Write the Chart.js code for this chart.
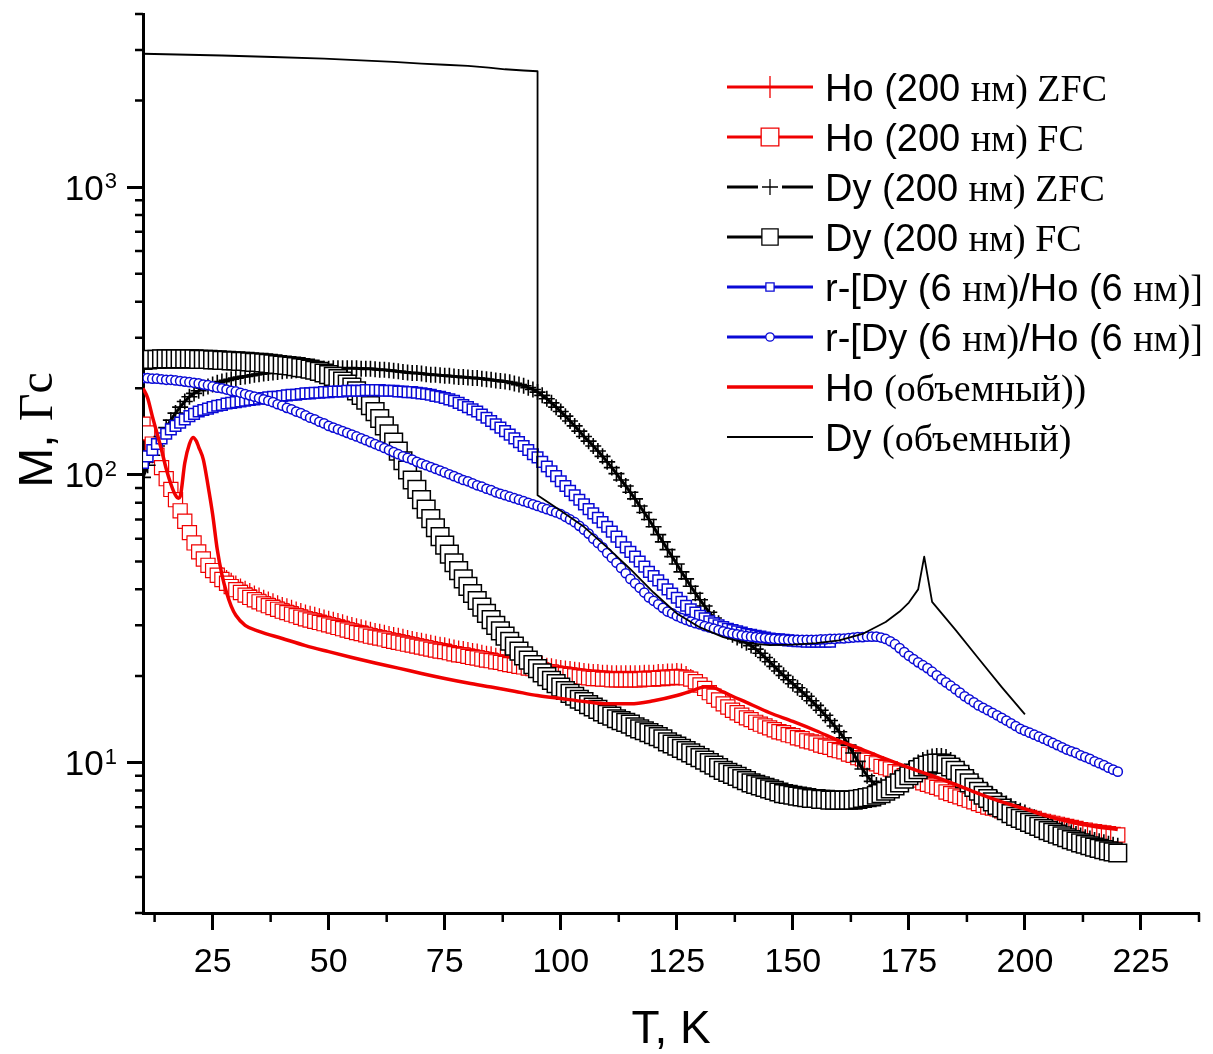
<!DOCTYPE html>
<html lang="ru">
<head>
<meta charset="utf-8">
<title>M(T)</title>
<script src="https://cdn.jsdelivr.net/npm/chart.js@4.4.1/dist/chart.umd.min.js"></script>
<style>
  html, body { margin: 0; padding: 0; background: #fff; }
  #mtChart { display: block; }
</style>
</head>
<body>
<canvas id="mtChart" width="1213" height="1054"></canvas>
<script>
// Magnetization vs temperature: Ho and Dy films (200 nm), r-[Dy/Ho] multilayer, bulk Ho and Dy

const SANS = '"Liberation Sans", Arial, sans-serif';
const SERIF = '"Liberation Serif", "Times New Roman", serif';

const RED = '#f00000';
const BLUE = '#0a0ad6';
const BLACK = '#000000';

// Temperature grid, K (film series are sampled every 1 K)
const tempGrid = [
  10, 11, 12, 13, 14, 15, 16, 17, 18, 19,
  20, 21, 22, 23, 24, 25, 26, 27, 28, 29,
  30, 31, 32, 33, 34, 35, 36, 37, 38, 39,
  40, 41, 42, 43, 44, 45, 46, 47, 48, 49,
  50, 51, 52, 53, 54, 55, 56, 57, 58, 59,
  60, 61, 62, 63, 64, 65, 66, 67, 68, 69,
  70, 71, 72, 73, 74, 75, 76, 77, 78, 79,
  80, 81, 82, 83, 84, 85, 86, 87, 88, 89,
  90, 91, 92, 93, 94, 95, 96, 97, 98, 99,
  100, 101, 102, 103, 104, 105, 106, 107, 108, 109,
  110, 111, 112, 113, 114, 115, 116, 117, 118, 119,
  120, 121, 122, 123, 124, 125, 126, 127, 128, 129,
  130, 131, 132, 133, 134, 135, 136, 137, 138, 139,
  140, 141, 142, 143, 144, 145, 146, 147, 148, 149,
  150, 151, 152, 153, 154, 155, 156, 157, 158, 159,
  160, 161, 162, 163, 164, 165, 166, 167, 168, 169,
  170, 171, 172, 173, 174, 175, 176, 177, 178, 179,
  180, 181, 182, 183, 184, 185, 186, 187, 188, 189,
  190, 191, 192, 193, 194, 195, 196, 197, 198, 199,
  200, 201, 202, 203, 204, 205, 206, 207, 208, 209,
  210, 211, 212, 213, 214, 215, 216, 217, 218, 219,
  220
];

// Ho (200 nm), zero-field-cooled, Gs
const hoZfc = [
  147, 137, 125, 115, 104, 95, 87, 80, 74, 68,
  62, 57.5, 53.5, 50.5, 48.5, 47, 46, 45.2, 44.2, 43.2,
  42.3, 41.3, 40.5, 39.8, 39.0, 38.4, 37.7, 37.2, 36.7, 36.1,
  35.6, 35.2, 34.8, 34.3, 33.9, 33.5, 33.2, 32.9, 32.5, 32.2,
  31.9, 31.6, 31.3, 31.0, 30.6, 30.3, 30.0, 29.8, 29.5, 29.2,
  28.9, 28.7, 28.5, 28.2, 28.0, 27.8, 27.6, 27.3, 27.1, 26.9,
  26.7, 26.5, 26.3, 26.1, 25.9, 25.8, 25.5, 25.3, 25.1, 25.0,
  24.8, 24.6, 24.5, 24.3, 24.1, 24.0, 23.7, 23.6, 23.4, 23.2,
  23.1, 22.9, 22.8, 22.6, 22.5, 22.3, 22.2, 21.9, 21.8, 21.6,
  21.5, 21.4, 21.3, 21.2, 21.1, 21.0, 20.9, 20.8, 20.8, 20.7,
  20.7, 20.6, 20.6, 20.6, 20.6, 20.6, 20.6, 20.6, 20.7, 20.7,
  20.7, 20.8, 20.8, 20.9, 20.9, 21.0, 20.9, 20.5, 20.0, 19.4,
  18.7, 18.1, 17.5, 17.0, 16.5, 16.0, 15.6, 15.2, 14.9, 14.6,
  14.3, 14.1, 13.8, 13.6, 13.4, 13.2, 13.0, 12.8, 12.7, 12.5,
  12.4, 12.2, 12.1, 11.9, 11.8, 11.7, 11.5, 11.4, 11.3, 11.1,
  11.0, 10.9, 10.7, 10.6, 10.4, 10.3, 10.2, 10.0, 9.9, 9.7,
  9.6, 9.5, 9.3, 9.2, 9.0, 8.9, 8.8, 8.7, 8.5, 8.4,
  8.3, 8.2, 8.1, 7.9, 7.8, 7.7, 7.6, 7.5, 7.4, 7.3,
  7.2, 7.1, 7.0, 6.95, 6.9, 6.8, 6.75, 6.7, 6.6, 6.55,
  6.5, 6.45, 6.4, 6.3, 6.25, 6.2, 6.15, 6.1, 6.05, 6.0,
  5.95, 5.9, 5.85, 5.82, 5.78, 5.75, 5.72, 5.69, 5.66, 5.63,
  5.6
];

// Ho (200 nm), field-cooled
const hoFc = [
  150, 140, 128, 117, 106, 97, 89, 82, 75, 69,
  63, 58, 54, 51, 48.5, 46.5, 44.8, 43.3, 42.0, 40.9,
  39.9, 39.0, 38.2, 37.5, 36.8, 36.2, 35.6, 35.1, 34.6, 34.1,
  33.6, 33.2, 32.8, 32.4, 32.0, 31.6, 31.3, 31.0, 30.7, 30.4,
  30.1, 29.8, 29.5, 29.2, 28.9, 28.6, 28.3, 28.1, 27.8, 27.5,
  27.3, 27.1, 26.9, 26.6, 26.4, 26.2, 26.0, 25.8, 25.6, 25.4,
  25.2, 25.0, 24.8, 24.6, 24.4, 24.3, 24.1, 23.9, 23.7, 23.6,
  23.4, 23.2, 23.1, 22.9, 22.7, 22.6, 22.4, 22.3, 22.1, 21.9,
  21.8, 21.6, 21.5, 21.3, 21.2, 21.0, 20.9, 20.7, 20.6, 20.4,
  20.3, 20.2, 20.1, 20.0, 19.9, 19.8, 19.7, 19.6, 19.6, 19.5,
  19.5, 19.4, 19.4, 19.4, 19.4, 19.4, 19.4, 19.4, 19.5, 19.5,
  19.5, 19.6, 19.6, 19.7, 19.7, 19.8, 19.8, 19.7, 19.5, 19.1,
  18.6, 18.1, 17.5, 17.0, 16.5, 16.0, 15.6, 15.2, 14.9, 14.6,
  14.3, 14.1, 13.8, 13.6, 13.4, 13.2, 13.0, 12.8, 12.7, 12.5,
  12.4, 12.2, 12.1, 11.9, 11.8, 11.7, 11.5, 11.4, 11.3, 11.1,
  11.0, 10.9, 10.7, 10.6, 10.4, 10.3, 10.2, 10.0, 9.9, 9.7,
  9.6, 9.5, 9.3, 9.2, 9.0, 8.9, 8.8, 8.7, 8.5, 8.4,
  8.3, 8.2, 8.1, 7.9, 7.8, 7.7, 7.6, 7.5, 7.4, 7.3,
  7.2, 7.1, 7.0, 6.95, 6.9, 6.8, 6.75, 6.7, 6.6, 6.55,
  6.5, 6.45, 6.4, 6.3, 6.25, 6.2, 6.15, 6.1, 6.05, 6.0,
  5.95, 5.9, 5.85, 5.82, 5.78, 5.75, 5.72, 5.69, 5.66, 5.63,
  5.6
];

// Dy (200 nm), zero-field-cooled
const dyZfc = [
  98, 108, 117, 126, 136, 146, 155, 164, 172, 180,
  187, 192, 196, 200, 203, 206, 209, 211, 213, 215,
  217, 219, 220, 221, 223, 224, 225, 226, 227, 228,
  229, 230, 230, 231, 232, 232, 233, 233, 234, 234,
  234, 235, 235, 235, 235, 235, 235, 234, 234, 234,
  233, 232, 232, 231, 230, 229, 228, 227, 226, 226,
  225, 224, 223, 223, 222, 221, 221, 220, 219, 219,
  218, 217, 217, 216, 215, 214, 213, 212, 211, 210,
  208, 206, 204, 201, 198, 194, 189, 184, 178, 172,
  166, 160, 154, 148, 142, 136, 131, 126, 121, 116,
  111, 106, 101, 96, 91.5, 87, 82.5, 78, 74, 70,
  66, 62, 58.5, 55, 52, 49, 46, 43.5, 41, 38.8,
  36.8, 35, 33.3, 31.8, 30.5, 29.4, 28.5, 27.8, 27.2, 26.6,
  26.1, 25.5, 24.8, 24.0, 23.2, 22.4, 21.6, 20.8, 20.1, 19.4,
  18.8, 18.2, 17.6, 17.0, 16.4, 15.8, 15.2, 14.6, 14.0, 13.4,
  12.8, 12.2, 11.5, 10.8, 10.1, 9.5, 9.0, 8.6, 8.35, 8.3,
  8.4, 8.6, 8.8, 9.0, 9.3, 9.5, 9.75, 10.0, 10.2, 10.4,
  10.5, 10.55, 10.55, 10.45, 10.2, 9.95, 9.65, 9.3, 9.0, 8.7,
  8.4, 8.15, 7.95, 7.75, 7.5, 7.35, 7.2, 7.05, 6.9, 6.8,
  6.7, 6.55, 6.45, 6.35, 6.25, 6.15, 6.05, 5.98, 5.9, 5.8,
  5.72, 5.65, 5.58, 5.5, 5.45, 5.38, 5.33, 5.28, 5.22, 5.18,
  5.14
];

// Dy (200 nm), field-cooled
const dyFc = [
  250, 251, 252, 252, 253, 253, 253, 253, 253, 253,
  253, 253, 252, 252, 252, 251, 251, 250, 250, 249,
  249, 248, 248, 247, 246, 246, 245, 244, 243, 242,
  241, 240, 239, 238, 236, 235, 233, 231, 229, 226,
  223, 220, 216, 212, 207, 202, 196, 189, 182, 174,
  166, 157, 148, 139, 130, 121, 112, 104, 96, 89,
  82, 76, 70.5, 65.5, 61, 57, 53, 49.5, 46.5, 43.5,
  41, 38.7, 36.6, 34.7, 33, 31.4, 30, 28.7, 27.5, 26.4,
  25.4, 24.4, 23.5, 22.7, 21.9, 21.2, 20.5, 19.9, 19.3, 18.8,
  18.3, 17.8, 17.4, 17.0, 16.6, 16.3, 15.9, 15.6, 15.3, 15.0,
  14.7, 14.5, 14.2, 14.0, 13.8, 13.6, 13.3, 13.1, 12.9, 12.7,
  12.5, 12.3, 12.1, 11.8, 11.6, 11.4, 11.2, 11.0, 10.8, 10.6,
  10.4, 10.2, 10.0, 9.8, 9.6, 9.4, 9.25, 9.1, 8.95, 8.8,
  8.65, 8.5, 8.4, 8.3, 8.2, 8.1, 8.0, 7.9, 7.8, 7.75,
  7.7, 7.65, 7.6, 7.55, 7.5, 7.5, 7.45, 7.45, 7.4, 7.4,
  7.4, 7.4, 7.4, 7.4, 7.45, 7.5, 7.55, 7.6, 7.7, 7.8,
  7.95, 8.1, 8.3, 8.5, 8.75, 9.0, 9.2, 9.45, 9.65, 9.8,
  9.9, 9.95, 9.95, 9.85, 9.65, 9.4, 9.1, 8.8, 8.5, 8.2,
  7.95, 7.7, 7.5, 7.3, 7.1, 6.95, 6.8, 6.65, 6.5, 6.4,
  6.3, 6.2, 6.1, 6.0, 5.9, 5.8, 5.72, 5.64, 5.56, 5.48,
  5.4, 5.33, 5.26, 5.2, 5.14, 5.08, 5.03, 4.98, 4.93, 4.89,
  4.85
];

// r-[Dy (6 nm)/Ho (6 nm)], square symbols, T = 10..158 K
const multiSq = [
  110, 116, 122, 128, 134, 139, 144, 148, 152, 156,
  160, 163, 166, 168, 170, 172, 174, 175, 177, 178,
  179, 180, 181, 182, 183, 184, 185, 186, 187, 187,
  188, 189, 190, 190, 191, 192, 192, 193, 193, 194,
  194, 195, 195, 195, 196, 196, 196, 196, 197, 197,
  197, 197, 196, 196, 196, 195, 195, 194, 194, 193,
  192, 191, 190, 188, 187, 185, 183, 181, 178, 175,
  172, 169, 166, 162, 158, 154, 150, 146, 142, 138,
  134, 130, 126, 122, 118, 115, 111, 107, 103, 99,
  95, 91.5, 88, 85, 82, 79, 76, 73.5, 71, 68.5,
  66, 63.5, 61, 58.5, 56, 54, 52, 50, 48, 46,
  44.5, 43, 41.5, 40, 38.7, 37.4, 36.2, 35.1, 34.1, 33.2,
  32.4, 31.7, 31.0, 30.5, 30.0, 29.6, 29.2, 28.9, 28.6, 28.3,
  28.0, 27.8, 27.6, 27.4, 27.2, 27.0, 26.9, 26.8, 26.7, 26.6,
  26.5, 26.4, 26.4, 26.3, 26.3, 26.3, 26.3, 26.3, 26.3
];

// r-[Dy (6 nm)/Ho (6 nm)], circle symbols
const multiCirc = [
  217, 217, 216, 216, 215, 214, 214, 213, 212, 211,
  210, 209, 208, 206, 205, 203, 201, 200, 198, 196,
  195, 193, 191, 189, 187, 185, 183, 181, 179, 176,
  174, 171, 169, 166, 164, 161, 158, 156, 153, 151,
  148, 146, 144, 142, 140, 138, 136, 134, 132, 130,
  128, 126, 124, 122, 120, 118, 116, 114.5, 113, 111,
  109.5, 108, 106.5, 105, 103.5, 102, 100.5, 99, 97.5, 96,
  95, 93.5, 92, 91, 89.5, 88.5, 87, 86, 85, 84,
  83, 82, 81, 80, 79, 78, 77, 76, 75, 74,
  73, 71.5, 70, 68.5, 66.5, 64.5, 62.5, 60, 58, 56,
  53.5, 51.5, 49.5, 47.5, 45.5, 43.5, 42, 40.5, 39, 37.5,
  36.5, 35.5, 34.5, 33.5, 33, 32.3, 31.8, 31.3, 30.9, 30.5,
  30.2, 29.8, 29.5, 29.2, 28.9, 28.6, 28.3, 28.1, 27.9, 27.7,
  27.5, 27.4, 27.3, 27.2, 27.1, 27.0, 26.9, 26.8, 26.8, 26.7,
  26.7, 26.7, 26.7, 26.7, 26.7, 26.7, 26.8, 26.8, 26.9, 26.9,
  27.0, 27.0, 27.1, 27.2, 27.3, 27.3, 27.4, 27.4, 27.4, 27.2,
  26.9, 26.4, 25.8, 25.0, 24.2, 23.5, 22.9, 22.3, 21.8, 21.3,
  20.7, 20.1, 19.5, 19.0, 18.5, 18.0, 17.5, 17.0, 16.6, 16.2,
  15.8, 15.5, 15.2, 14.9, 14.6, 14.3, 14.0, 13.7, 13.4, 13.1,
  12.9, 12.7, 12.5, 12.3, 12.1, 11.9, 11.7, 11.5, 11.3, 11.1,
  10.95, 10.8, 10.6, 10.45, 10.3, 10.1, 9.95, 9.8, 9.6, 9.45,
  9.3
];

// Bulk Ho
const hoBulkT = [
  10, 11, 12, 13, 14, 15, 16, 17, 17.6, 18, 19, 20, 20.8, 21.5, 22, 23, 24, 25,
  26, 27, 28, 29, 30, 32, 35, 40, 45, 50, 55, 60, 65, 70, 75, 80, 85, 90, 95, 100,
  105, 110, 115, 120, 125, 128, 131, 133, 135, 137, 140, 145, 150, 155, 160, 165,
  170, 175, 180, 185, 190, 195, 200, 205, 210, 215, 220
];
const hoBulkM = [
  200, 185, 160, 140, 122, 105, 93, 85, 83, 84, 110, 128, 135, 131, 125, 113, 92, 73,
  55, 45, 39, 35, 32.5, 30, 28.6, 27, 25.5, 24.3, 23.2, 22.2, 21.3, 20.4, 19.6, 18.9, 18.3, 17.7, 17.1, 16.7,
  16.3, 16.0, 16.0, 16.4, 17.1, 17.7, 18.3, 18.2, 17.6, 17.0, 16.2, 14.9, 13.9, 12.9, 11.9, 11.1,
  10.3, 9.6, 9.0, 8.4, 7.8, 7.3, 6.9, 6.5, 6.2, 6.0, 5.85
];

// Bulk Dy (jump at the ferro/helical transition near 95 K)
const dyBulkT = [
  10, 27, 38, 49, 57, 64, 70, 75, 80, 84.5, 88, 92, 95,
  95, 100, 105, 110, 115, 120, 125, 130, 135, 140, 145, 150, 155, 160, 165,
  170, 173, 175, 177, 178.3, 180, 185, 190, 195, 200
];
const dyBulkM = [
  2910, 2870, 2835, 2800, 2760, 2725, 2690, 2665, 2640, 2605, 2570, 2545, 2530,
  85, 75, 66, 56, 47, 39, 33, 29.5, 27.3, 26.0, 25.6, 25.7, 26.0, 26.6, 28.0,
  30.8, 33.5, 36, 40, 52, 36.2, 29.0, 23.0, 18.3, 14.7
];

// Axis ticks
const xMajorTicks = [25, 50, 75, 100, 125, 150, 175, 200, 225];
const xMinorTicks = [12.5, 37.5, 62.5, 87.5, 112.5, 137.5, 162.5, 187.5, 212.5, 237.5];
const yMajorTicks = [10, 100, 1000];
const yMinorTicks = [3, 4, 5, 6, 7, 8, 9, 20, 30, 40, 50, 60, 70, 80, 90,
                     200, 300, 400, 500, 600, 700, 800, 900, 2000, 3000, 4000];
// decade labels: mantissa and exponent
const yTickBase = '10';
const yTickExponents = { 10: '1', 100: '2', 1000: '3' };

// Legend text, split where the font switches
const seriesLabels = [
  [['Ho (200 ', SANS], ['нм) ZFC', SERIF]],
  [['Ho (200 ', SANS], ['нм) FC', SERIF]],
  [['Dy (200 ', SANS], ['нм) ZFC', SERIF]],
  [['Dy (200 ', SANS], ['нм) FC', SERIF]],
  [['r-[Dy (6 ', SANS], ['нм)', SERIF], ['/Ho (6 ', SANS], ['нм)]', SERIF]],
  [['r-[Dy (6 ', SANS], ['нм)', SERIF], ['/Ho (6 ', SANS], ['нм)]', SERIF]],
  [['Ho ', SANS], ['(объемный))', SERIF]],
  [['Dy ', SANS], ['(объемный)', SERIF]]
];

const toPoints = (xs, ys) => ys.map((v, i) => ({ x: xs[i], y: v }));
const plainLabel = parts => parts.map(p => p[0]).join('');

const datasets = [
  {
    data: toPoints(tempGrid, hoZfc),
    borderColor: RED, borderWidth: 3,
    pointStyle: 'cross', pointRadius: 7, pointBorderWidth: 1.3,
    legendMarker: { radius: 11, borderWidth: 1.3 }
  },
  {
    data: toPoints(tempGrid, hoFc),
    borderColor: RED, borderWidth: 3,
    pointStyle: 'rect', pointRadius: 10, pointBorderWidth: 1.2, pointBackgroundColor: '#fff',
    legendMarker: { radius: 12.5, borderWidth: 1.3 }
  },
  {
    data: toPoints(tempGrid, dyZfc),
    borderColor: BLACK, borderWidth: 3,
    pointStyle: 'cross', pointRadius: 8, pointBorderWidth: 1.6,
    legendMarker: { radius: 8, borderWidth: 1.3, gap: 12 }
  },
  {
    data: toPoints(tempGrid, dyFc),
    borderColor: BLACK, borderWidth: 3,
    pointStyle: 'rect', pointRadius: 12.5, pointBorderWidth: 1.5, pointBackgroundColor: '#fff',
    legendMarker: { radius: 11.5, borderWidth: 1.3 }
  },
  {
    data: toPoints(tempGrid, multiSq),
    borderColor: BLUE, borderWidth: 3,
    pointStyle: 'rect', pointRadius: 7.5, pointBorderWidth: 1.5, pointBackgroundColor: '#fff',
    legendMarker: { radius: 5.8, borderWidth: 1.3 }
  },
  {
    data: toPoints(tempGrid, multiCirc),
    borderColor: BLUE, borderWidth: 3,
    pointStyle: 'circle', pointRadius: 4.6, pointBorderWidth: 1.5, pointBackgroundColor: '#fff',
    legendMarker: { radius: 4.2, borderWidth: 1.3 }
  },
  {
    data: toPoints(hoBulkT, hoBulkM),
    borderColor: RED, borderWidth: 3.5,
    pointRadius: 0, cubicInterpolationMode: 'monotone'
  },
  {
    data: toPoints(dyBulkT, dyBulkM),
    borderColor: BLACK, borderWidth: 1.8,
    pointRadius: 0
  }
];

// later series sit on top, earlier ones underneath
datasets.forEach((ds, i) => {
  ds.label = plainLabel(seriesLabels[i]);
  ds.order = datasets.length - i;
  ds.fill = false;
  ds.borderJoinStyle = 'round';
});

// minor tick marks, decade labels with exponents, mixed-font y title
const axisExtras = {
  id: 'axisExtras',
  afterDraw(chart) {
    const { ctx, chartArea: area, scales: { x, y } } = chart;
    ctx.save();
    ctx.strokeStyle = '#000';
    ctx.lineWidth = 2.5;
    ctx.beginPath();
    xMinorTicks.forEach(v => {
      const px = x.getPixelForValue(v);
      ctx.moveTo(px, area.bottom);
      ctx.lineTo(px, area.bottom + 9);
    });
    yMinorTicks.forEach(v => {
      const py = y.getPixelForValue(v);
      ctx.moveTo(area.left - 8, py);
      ctx.lineTo(area.left, py);
    });
    ctx.stroke();

    ctx.fillStyle = '#000';
    ctx.textBaseline = 'alphabetic';
    yMajorTicks.forEach(v => {
      const py = y.getPixelForValue(v);
      const exp = yTickExponents[v];
      ctx.font = `22px ${SANS}`;
      const wExp = ctx.measureText(exp).width;
      const xExp = area.left - 26 - wExp;
      ctx.fillText(exp, xExp, py + 1);
      ctx.font = `35px ${SANS}`;
      const wBase = ctx.measureText(yTickBase).width;
      ctx.fillText(yTickBase, xExp - wBase - 1, py + 12.5);
    });

    const titleParts = [['M, ', SANS], ['Гс', SERIF]];
    ctx.translate(35, 430);
    ctx.rotate(-Math.PI / 2);
    let total = 0;
    titleParts.forEach(([t, f]) => { ctx.font = `48px ${f}`; total += ctx.measureText(t).width; });
    let u = -total / 2;
    titleParts.forEach(([t, f]) => {
      ctx.font = `48px ${f}`;
      ctx.fillText(t, u, 17);
      u += ctx.measureText(t).width;
    });
    ctx.restore();
  }
};

// legend rows: line, symbol, label
const LEGEND_TOP = 87;
const LEGEND_STEP = 50;
const legendRows = {
  id: 'legendRows',
  afterDraw(chart) {
    const ctx = chart.ctx;
    const x0 = 727, x1 = 813, xm = 770, xText = 825;
    chart.data.datasets.forEach((ds, i) => {
      const yRow = LEGEND_TOP + i * LEGEND_STEP;
      const m = ds.legendMarker;
      ctx.save();
      ctx.strokeStyle = ds.borderColor;
      ctx.lineWidth = ds.borderWidth;
      ctx.beginPath();
      if (m && m.gap) {
        ctx.moveTo(x0, yRow); ctx.lineTo(xm - m.gap, yRow);
        ctx.moveTo(xm + m.gap, yRow); ctx.lineTo(x1, yRow);
      } else {
        ctx.moveTo(x0, yRow); ctx.lineTo(x1, yRow);
      }
      ctx.stroke();
      if (m) {
        ctx.fillStyle = '#fff';
        ctx.strokeStyle = ds.borderColor;
        ctx.lineWidth = m.borderWidth;
        Chart.helpers.drawPoint(ctx, {
          pointStyle: ds.pointStyle, rotation: 0, radius: m.radius, borderWidth: m.borderWidth
        }, xm, yRow);
      }
      ctx.fillStyle = '#000';
      ctx.textBaseline = 'alphabetic';
      let tx = xText;
      seriesLabels[i].forEach(([t, f]) => {
        ctx.font = `38px ${f}`;
        ctx.fillText(t, tx, yRow + 14);
        tx += ctx.measureText(t).width;
      });
      ctx.restore();
    });
  }
};

new Chart(document.getElementById('mtChart'), {
  type: 'line',
  data: { datasets },
  plugins: [axisExtras, legendRows],
  options: {
    responsive: false,
    animation: false,
    devicePixelRatio: 1,
    events: [],
    layout: { padding: { top: 13, right: 10, left: 0, bottom: 0 } },
    plugins: { legend: { display: false }, tooltip: { enabled: false } },
    scales: {
      x: {
        type: 'linear',
        min: 10,
        max: 237.5,
        afterBuildTicks: scale => { scale.ticks = xMajorTicks.map(v => ({ value: v })); },
        afterFit: scale => {
          scale.height = 141;
          scale.paddingLeft = 0;
          scale.paddingRight = 0;
        },
        ticks: {
          color: '#000',
          padding: 12,
          maxRotation: 0,
          font: { family: SANS, size: 34 },
          callback: v => String(v)
        },
        grid: { display: true, drawOnChartArea: false, drawTicks: true, tickLength: 17, tickWidth: 3, tickColor: '#000' },
        border: { display: true, color: '#000', width: 3 },
        title: {
          display: true,
          text: 'T, K',
          color: '#000',
          font: { family: SANS, size: 46, lineHeight: 1 },
          padding: { top: 0, bottom: 1 }
        }
      },
      y: {
        type: 'logarithmic',
        min: 3,
        max: 4000,
        afterBuildTicks: scale => { scale.ticks = yMajorTicks.map(v => ({ value: v })); },
        afterFit: scale => {
          scale.width = 143;
          scale.paddingTop = 0;
          scale.paddingBottom = 0;
        },
        ticks: {
          padding: 10,
          font: { family: SANS, size: 34 },
          callback: () => ''
        },
        grid: { display: true, drawOnChartArea: false, drawTicks: true, tickLength: 16, tickWidth: 3, tickColor: '#000' },
        border: { display: true, color: '#000', width: 3 }
      }
    }
  }
});
</script>
</body>
</html>
